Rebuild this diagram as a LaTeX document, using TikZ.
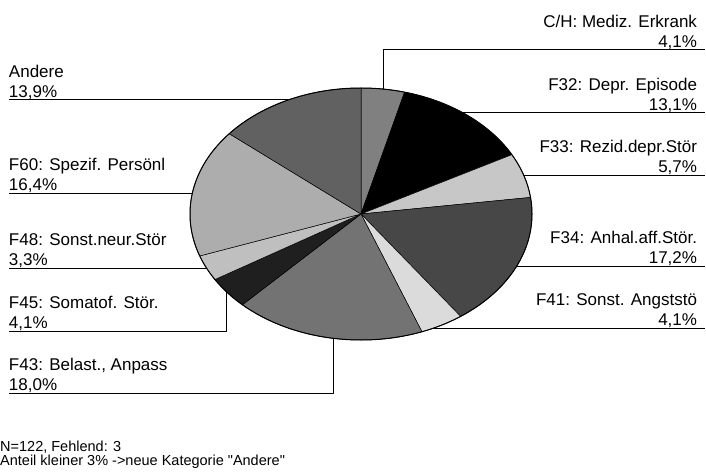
\documentclass[tikz,border=0pt]{standalone}
\usepackage{fontspec}
\setmainfont{Liberation Sans}
\begin{document}
\begin{tikzpicture}[x=1pt,y=1pt,line join=round,
	lbl/.style={inner sep=0pt,outer sep=0pt,font=\fontsize{17}{20.5}\selectfont},
	lbll/.style={lbl,align=left,anchor=south west},
	lblr/.style={lbl,align=right,anchor=south east},
	slice/.style={draw=black,line width=0.5pt},
	leader/.style={line width=1pt}]
	%==Parameters of the pie
	\def\rx{171pt}
	\def\ry{126pt}
	%==============
	\useasboundingbox (0,0) rectangle (706,472);
	\coordinate (O) at (361,258);
	% slices, clockwise from the top
	\filldraw[slice,fill=black!50] (O)--++(90:\rx\space and \ry) arc[start angle=90,end angle=75.24,x radius=\rx,y radius=\ry]--cycle;
	\filldraw[slice,fill=black] (O)--++(75.24:\rx\space and \ry) arc[start angle=75.24,end angle=28.08,x radius=\rx,y radius=\ry]--cycle;
	\filldraw[slice,fill=black!22] (O)--++(28.08:\rx\space and \ry) arc[start angle=28.08,end angle=7.56,x radius=\rx,y radius=\ry]--cycle;
	\filldraw[slice,fill=black!72] (O)--++(7.56:\rx\space and \ry) arc[start angle=7.56,end angle=-54.36,x radius=\rx,y radius=\ry]--cycle;
	\filldraw[slice,fill=black!14] (O)--++(-54.36:\rx\space and \ry) arc[start angle=-54.36,end angle=-69.12,x radius=\rx,y radius=\ry]--cycle;
	\filldraw[slice,fill=black!55] (O)--++(-69.12:\rx\space and \ry) arc[start angle=-69.12,end angle=-133.92,x radius=\rx,y radius=\ry]--cycle;
	\filldraw[slice,fill=black!88] (O)--++(-133.92:\rx\space and \ry) arc[start angle=-133.92,end angle=-148.68,x radius=\rx,y radius=\ry]--cycle;
	\filldraw[slice,fill=black!25] (O)--++(-148.68:\rx\space and \ry) arc[start angle=-148.68,end angle=-160.56,x radius=\rx,y radius=\ry]--cycle;
	\filldraw[slice,fill=black!32] (O)--++(-160.56:\rx\space and \ry) arc[start angle=-160.56,end angle=-219.6,x radius=\rx,y radius=\ry]--cycle;
	\filldraw[slice,fill=black!62] (O)--++(-219.6:\rx\space and \ry) arc[start angle=-219.6,end angle=-270,x radius=\rx,y radius=\ry]--cycle;
	\draw[line width=1pt] (O) ellipse[x radius=\rx,y radius=\ry];
	% points on the rim
	\path (O)++(82.6:\rx\space and \ry)coordinate(eCH);
	\path (O)++(53.3:\rx\space and \ry)coordinate(eF32);
	\path (O)++(18.0:\rx\space and \ry)coordinate(eF33);
	\path (O)++(-24.4:\rx\space and \ry)coordinate(eF34);
	\path (O)++(-64.8:\rx\space and \ry)coordinate(eF41);
	\path (O)++(-99.4:\rx\space and \ry)coordinate(eF43);
	\path (O)++(-141.6:\rx\space and \ry)coordinate(eF45);
	\path (O)++(-154.6:\rx\space and \ry)coordinate(eF48);
	\path (O)++(170.4:\rx\space and \ry)coordinate(eF60);
	\path (O)++(115.2:\rx\space and \ry)coordinate(eAnd);
	% labels left
	\node[lbll] (lAnd) at (9,372) {Andere\\13,9\%};
	\node[lbll] (lF60) at (9,279) {F60: Spezif. Persönl\\16,4\%};
	\node[lbll] (lF48) at (9,204) {F48: Sonst.neur.Stör\\3,3\%};
	\node[lbll] (lF45) at (9,141) {F45: Somatof. Stör.\\4,1\%};
	\node[lbll] (lF43) at (9,79) {F43: Belast., Anpass\\18,0\%};
	% labels right
	\node[lblr] (lCH) at (697,422) {C/H: Mediz. Erkrank\\4,1\%};
	\node[lblr] (lF32) at (697,359) {F32: Depr. Episode\\13,1\%};
	\node[lblr] (lF33) at (697,297) {F33: Rezid.depr.Stör\\5,7\%};
	\node[lblr] (lF34) at (697,206) {F34: Anhal.aff.Stör.\\17,2\%};
	\node[lblr] (lF41) at (697,144) {F41: Sonst. Angststö\\4,1\%};
	% leaders
	\draw[leader] (lAnd.south west)--(lAnd.south west -| eAnd);
	\draw[leader] (lF60.south west)--(lF60.south west -| eF60);
	\draw[leader] (lF48.south west)--(lF48.south west -| eF48);
	\draw[leader] (lF45.south west)--(lF45.south west -| eF45)--(eF45);
	\draw[leader] (lF43.south west)--(lF43.south west -| eF43)--(eF43);
	\draw[leader] (eCH)--(eCH |- lCH.south)--([xshift=8pt]lCH.south east);
	\draw[leader] (lF32.south east -| eF32)--([xshift=8pt]lF32.south east);
	\draw[leader] (lF33.south east -| eF33)--([xshift=8pt]lF33.south east);
	\draw[leader] (lF34.south east -| eF34)--([xshift=8pt]lF34.south east);
	\draw[leader] (lF41.south east -| eF41)--([xshift=8pt]lF41.south east);
	% footnote
	\node[inner sep=0pt,anchor=base west,align=left,font=\fontsize{14.5}{13.5}\selectfont] (note) at (0,7)
	{N=122, Fehlend: 3\\Anteil kleiner 3\% ->neue Kategorie \textquotedbl Andere\textquotedbl};
\end{tikzpicture}
\end{document}
